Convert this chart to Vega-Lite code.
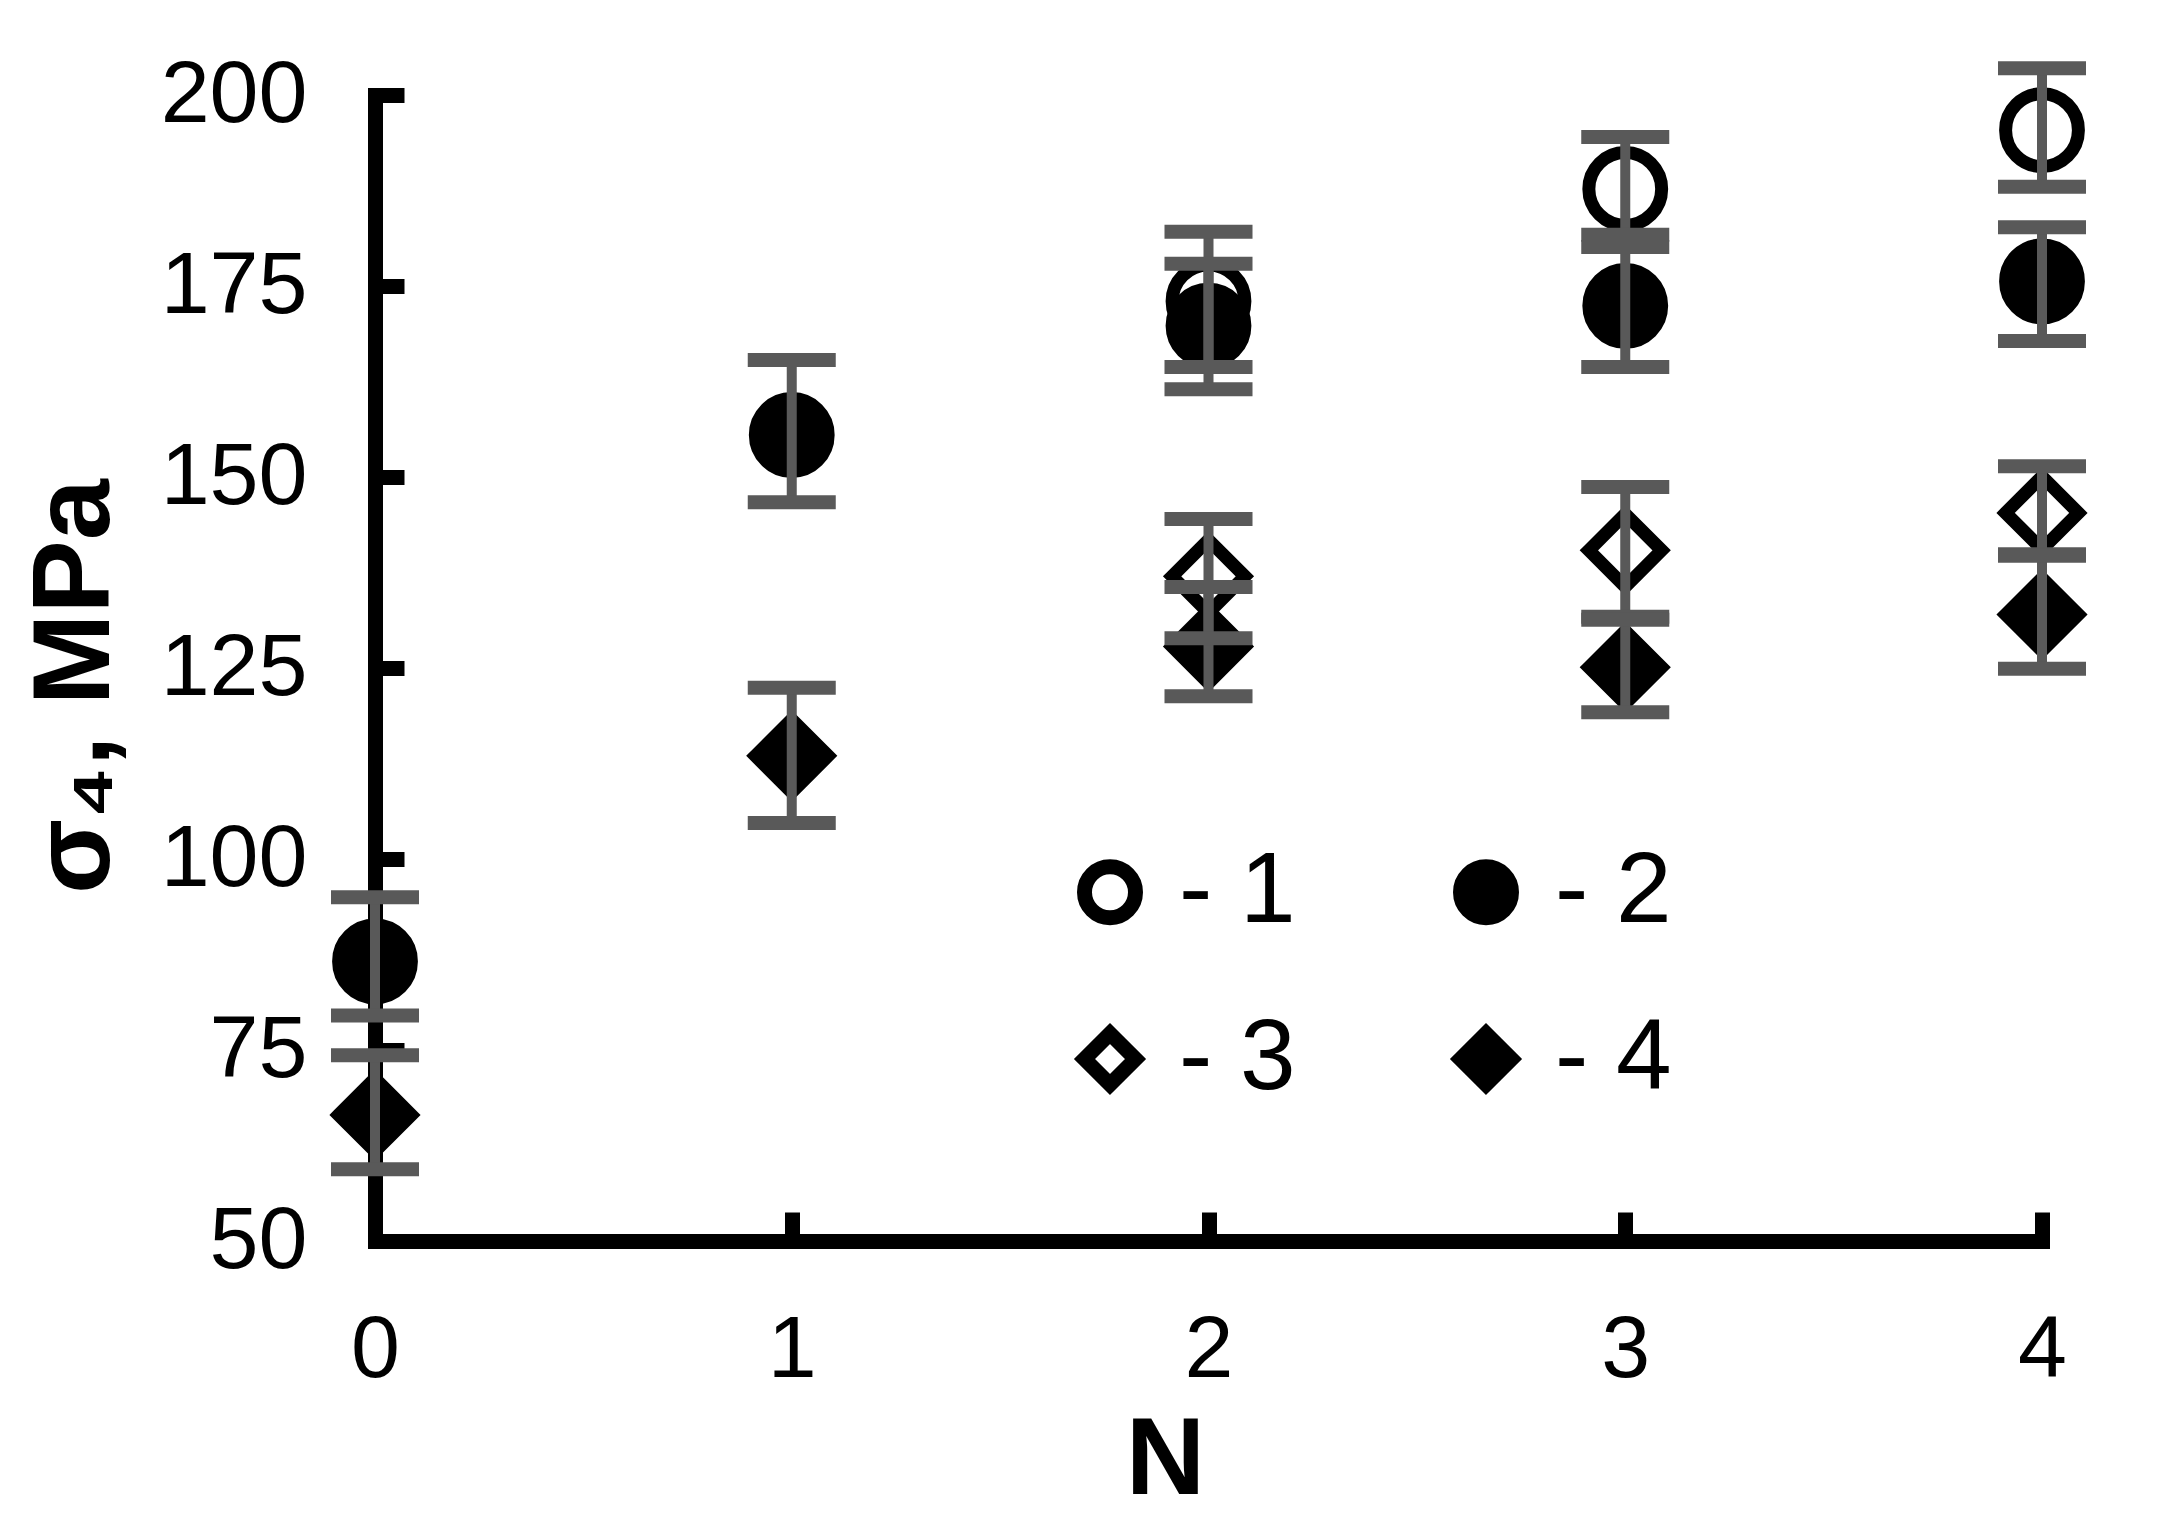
{
  "$schema": "https://vega.github.io/schema/vega-lite/v6.json",
  "width": 1667,
  "height": 1146,
  "autosize": {"type": "none"},
  "padding": {"left": 375, "top": 95, "right": 136, "bottom": 282},
  "background": "white",
  "config": {
    "view": {"stroke": null},
    "font": "Liberation Sans",
    "axis": {
      "grid": false,
      "tickSize": -29,
      "tickWidth": 15,
      "tickColor": "black",
      "domainWidth": 15,
      "domainColor": "black",
      "domainCap": "square",
      "labelFontSize": 88,
      "labelFont": "Liberation Sans",
      "labelColor": "black",
      "labelFlush": false,
      "labelOverlap": false,
      "titleFont": "Liberation Sans",
      "titleFontSize": 110,
      "titleFontWeight": "bold",
      "titleColor": "black"
    }
  },
  "data": {
    "values": [
      {"series": "2", "N": 0, "value": 86.6, "lo": 79.5, "hi": 95.0},
      {"series": "4", "N": 0, "value": 66.5, "lo": 59.4, "hi": 74.3},
      {"series": "2", "N": 1, "value": 155.5, "lo": 146.7, "hi": 165.3},
      {"series": "4", "N": 1, "value": 113.5, "lo": 104.7, "hi": 122.4},
      {"series": "1", "N": 2, "value": 173.0, "lo": 164.4, "hi": 182.1},
      {"series": "2", "N": 2, "value": 169.8, "lo": 161.5, "hi": 177.9},
      {"series": "3", "N": 2, "value": 137.0, "lo": 128.9, "hi": 144.5},
      {"series": "4", "N": 2, "value": 127.8, "lo": 121.3, "hi": 135.6},
      {"series": "1", "N": 3, "value": 187.7, "lo": 181.7, "hi": 194.5},
      {"series": "2", "N": 3, "value": 172.4, "lo": 164.4, "hi": 180.1},
      {"series": "3", "N": 3, "value": 140.4, "lo": 131.7, "hi": 148.7},
      {"series": "4", "N": 3, "value": 125.1, "lo": 119.2, "hi": 131.3},
      {"series": "1", "N": 4, "value": 195.4, "lo": 188.0, "hi": 203.5},
      {"series": "2", "N": 4, "value": 175.6, "lo": 167.8, "hi": 182.7},
      {"series": "3", "N": 4, "value": 145.3, "lo": 139.9, "hi": 151.4},
      {"series": "4", "N": 4, "value": 132.0, "lo": 124.9, "hi": 139.7}
    ]
  },
  "encoding": {
    "x": {
      "field": "N",
      "type": "quantitative",
      "scale": {"domain": [0, 4], "nice": false, "zero": false},
      "axis": {
        "title": "N",
        "values": [0, 1, 2, 3, 4],
        "format": "d",
        "labelPadding": 94,
        "titleX": 790,
        "titleY": 252,
        "titleBaseline": "alphabetic",
        "titleAlign": "center"
      }
    }
  },
  "layer": [
    {
      "mark": {"type": "point", "filled": true, "stroke": "black", "strokeWidth": 13, "opacity": 1, "size": 5300, "clip": false},
      "encoding": {
        "y": {
          "field": "value",
          "type": "quantitative",
          "scale": {"domain": [50, 200], "nice": false, "zero": false},
          "axis": {
            "title": "σ₄, MPa",
            "values": [50, 75, 100, 125, 150, 175, 200],
            "labelPadding": 97,
            "titleAngle": 270,
            "titleX": -267,
            "titleY": 591,
            "titleBaseline": "alphabetic",
            "titleAlign": "center"
          }
        },
        "shape": {
          "field": "series",
          "type": "nominal",
          "scale": {"domain": ["1", "2", "3", "4"], "range": ["circle", "circle", "diamond", "diamond"]},
          "legend": {
            "title": null,
            "orient": "none",
            "direction": "horizontal",
            "legendX": 685,
            "legendY": 747,
            "columns": 2,
            "columnPadding": 134,
            "rowPadding": 55,
            "padding": 0,
            "symbolSize": 2600,
            "symbolStrokeWidth": 15,
            "symbolStrokeColor": "black",
            "symbolOpacity": 1,
            "labelFontSize": 100,
            "labelFont": "Liberation Sans",
            "labelColor": "black",
            "labelOffset": 19,
            "labelExpr": "'- ' + datum.label",
            "encode": {"symbols": {"update": {"stroke": {"value": "black"}, "strokeWidth": {"value": 15}, "opacity": {"value": 1}}}}
          }
        },
        "fill": {
          "field": "series",
          "type": "nominal",
          "scale": {"domain": ["1", "2", "3", "4"], "range": ["white", "black", "white", "black"]},
          "legend": {
            "title": null,
            "orient": "none",
            "direction": "horizontal",
            "legendX": 685,
            "legendY": 747,
            "columns": 2,
            "columnPadding": 134,
            "rowPadding": 55,
            "padding": 0,
            "symbolSize": 2600,
            "symbolStrokeWidth": 15,
            "symbolStrokeColor": "black",
            "symbolOpacity": 1,
            "labelFontSize": 100,
            "labelFont": "Liberation Sans",
            "labelColor": "black",
            "labelOffset": 19,
            "labelExpr": "'- ' + datum.label",
            "encode": {"symbols": {"update": {"stroke": {"value": "black"}, "strokeWidth": {"value": 15}, "opacity": {"value": 1}}}}
          }
        }
      }
    },
    {
      "mark": {"type": "rule", "color": "#595959", "strokeWidth": 10, "clip": false},
      "encoding": {
        "y": {"field": "lo", "type": "quantitative", "scale": {"domain": [50, 200], "nice": false, "zero": false}},
        "y2": {"field": "hi"}
      }
    },
    {
      "mark": {"type": "tick", "orient": "horizontal", "color": "#595959", "size": 88, "thickness": 14, "opacity": 1, "clip": false},
      "encoding": {
        "y": {"field": "lo", "type": "quantitative", "scale": {"domain": [50, 200], "nice": false, "zero": false}}
      }
    },
    {
      "mark": {"type": "tick", "orient": "horizontal", "color": "#595959", "size": 88, "thickness": 14, "opacity": 1, "clip": false},
      "encoding": {
        "y": {"field": "hi", "type": "quantitative", "scale": {"domain": [50, 200], "nice": false, "zero": false}}
      }
    }
  ]
}
